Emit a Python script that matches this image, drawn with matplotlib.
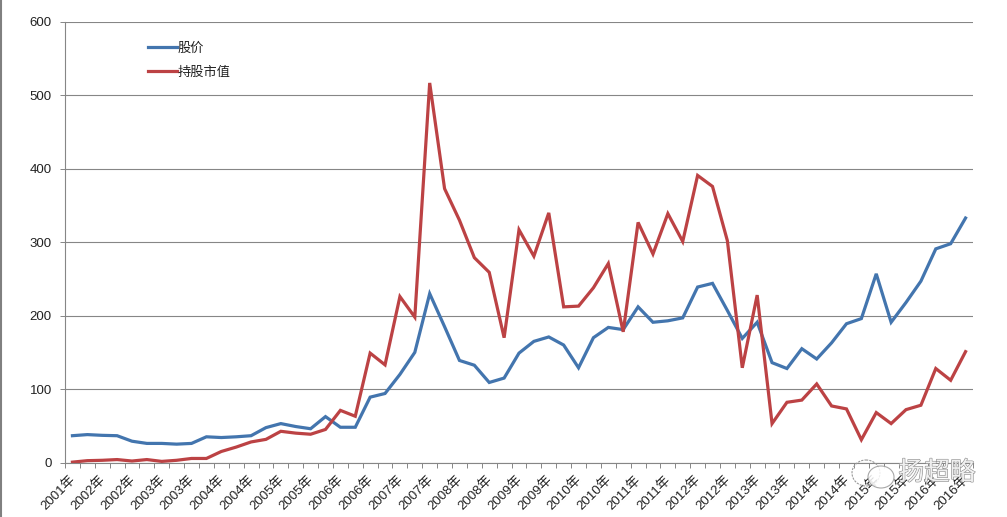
# 股价 vs 持股市值 line chart, half-year points 2001-2016
import matplotlib
matplotlib.use('Agg')
import matplotlib.pyplot as plt
import matplotlib.patheffects as pe
from matplotlib.patches import Ellipse

plt.rcParams['font.family'] = ['Liberation Sans', 'Noto Sans CJK SC']

years = [2001, 2002, 2002, 2003, 2003, 2004, 2004, 2005, 2005, 2006, 2006,
         2007, 2007, 2008, 2008, 2009, 2009, 2010, 2010, 2011, 2011,
         2012, 2012, 2013, 2013, 2014, 2014, 2015, 2015, 2016, 2016]
tick_labels = [f'{y}年' for y in years]

price = [36.5, 38, 37, 36.5, 29, 26, 26, 25, 26, 35, 34, 35, 36.5, 47.5, 53,
         49, 46, 62.5, 48, 48, 89, 94, 120, 150, 230, 185, 139, 132.5, 109,
         115, 149, 165, 171, 160, 129, 170, 184, 181, 212, 191, 193, 197,
         239, 244, 207, 169, 191, 136, 128, 155, 141, 163, 189, 196, 257,
         191, 218, 247, 291, 298, 333]
holding = [0.5, 2.5, 3, 4, 2, 4, 1.5, 3, 5.5, 5.5, 15, 21, 28, 31.5, 42.5,
           40, 38.5, 45, 71, 63, 149, 133, 226, 198, 517, 373, 330, 279, 259,
           170, 317, 281, 340, 212, 213, 238, 271, 178, 327, 284, 339, 301,
           391, 376, 302, 129, 228, 53, 82, 85, 107, 77, 73, 31, 68, 53, 72,
           78, 128, 112, 151]

W, H = 1007, 517
fig = plt.figure(figsize=(W / 100, H / 100), dpi=100)
ax = fig.add_axes([65 / W, 1 - 462.5 / H, 908 / W, 440.5 / H])

x = list(range(len(price)))
ax.plot(x, price, color='#4375AE', lw=2.3, label='股价', solid_joinstyle='miter')
ax.plot(x, holding, color='#BC4244', lw=2.3, label='持股市值', solid_joinstyle='miter')

ax.set_xlim(-0.5, len(price) - 0.5)
ax.set_ylim(0, 600)
ax.set_yticks(range(0, 601, 100))
ax.grid(axis='y', color='#868686', lw=0.8)
ax.set_axisbelow(True)

# ticks sit between the categories, a label on every second point
ax.set_xticks([i - 0.5 for i in range(len(price) + 1)])
ax.set_xticklabels([])
ax.tick_params(axis='x', length=3.5, width=0.7, color='#868686')
ax.tick_params(axis='y', length=3.5, width=0.7, color='#868686', labelsize=9.5, pad=6, labelcolor='#222222')
for i, lab in enumerate(tick_labels):
    ax.annotate(lab, (i * 2, 0), xycoords=('data', 'axes fraction'), xytext=(1, -11),
                textcoords='offset points', rotation=45, rotation_mode='anchor',
                ha='right', va='center', fontsize=9.5, color='#222222', annotation_clip=False)

for side in ['top', 'right']:
    ax.spines[side].set_visible(False)
for side in ['left', 'bottom']:
    ax.spines[side].set_color('#868686')
    ax.spines[side].set_linewidth(0.8)

ax.legend(loc='upper left', bbox_to_anchor=(71 / 908, 0.98), frameon=False, fontsize=9.5,
          handlelength=2.2, handletextpad=0.05, labelspacing=0.85, labelcolor='#222222')

# grey edge on the left of the screenshot
fig.add_artist(plt.Line2D([0.7 / W, 0.7 / W], [0, 1], color='#808080', lw=1.5))

# watermark, bottom right
fa = fig.add_axes([0, 0, 1, 1])
fa.set_xlim(0, W)
fa.set_ylim(H, 0)
fa.axis('off')
fa.patch.set_alpha(0)
fa.add_patch(Ellipse((866, 473), 28, 26, fill=False, ec='#999999', lw=0.8, ls=(0, (2, 1))))
fa.add_patch(Ellipse((881, 477), 26, 22, fc='white', ec='#999999', lw=0.8, alpha=0.85))
fa.text(937, 473, '扬超略', ha='center', va='center', fontsize=18.5, color='#f0f0f0',
        family='Noto Sans CJK SC',
        path_effects=[pe.withStroke(linewidth=0.8, foreground='#888888')])

fig.savefig('out.png', dpi=100)
